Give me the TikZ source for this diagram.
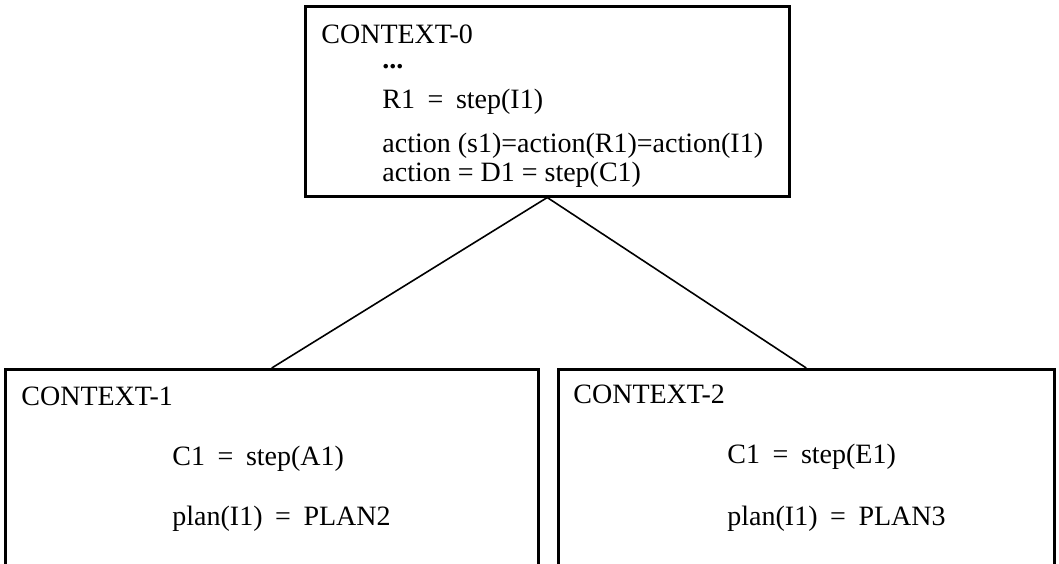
\documentclass[tikz,border=0pt]{standalone}
\usepackage{fontspec}
\setmainfont{Liberation Serif}
\newcommand{\wq}{\hspace{0.45em}=\hspace{0.45em}}
\begin{document}
\begin{tikzpicture}[x=0.5pt,y=-0.5pt,
  box/.style={draw, line width=1.25pt, rectangle, inner sep=0pt},
  txt/.style={anchor=base west, inner sep=0pt, font=\fontsize{14}{16}\selectfont},
  link/.style={line width=0.8pt}]
\useasboundingbox (0,0) rectangle (1059,563);
% boxes
\node[box, anchor=north west, minimum width=242pt, minimum height=95pt] (c0) at (304,5) {};
\node[box, anchor=north west, minimum width=266.5pt, minimum height=126pt] (c1) at (4,368) {};
\node[box, anchor=north west, minimum width=248pt, minimum height=126pt] (c2) at (557,368) {};
% connectors
\draw[link] (c0.south) -- (c1.north);
\draw[link] (c0.south) -- (c2.north);
% top texts
\node[txt] (t0) at (321,43) {CONTEXT-0};
\node[txt, text height=3pt] (t1) at (382,68) {\textbf{...}};
\node[txt] (t2) at (382,108) {R1\wq step(I1)};
\node[txt] (t3) at (382,152) {action (s1)=action(R1)=action(I1)};
\node[txt] (t4) at (382,181) {action = D1 = step(C1)};
% left texts
\node[txt] (l0) at (21,405) {CONTEXT-1};
\node[txt] (l1) at (172,465) {C1\wq step(A1)};
\node[txt] (l2) at (172,525) {plan(I1)\wq PLAN2};
% right texts
\node[txt] (r0) at (573,403) {CONTEXT-2};
\node[txt] (r1) at (727,463) {C1\wq step(E1)};
\node[txt] (r2) at (727,525) {plan(I1)\wq PLAN3};
\end{tikzpicture}
\end{document}
